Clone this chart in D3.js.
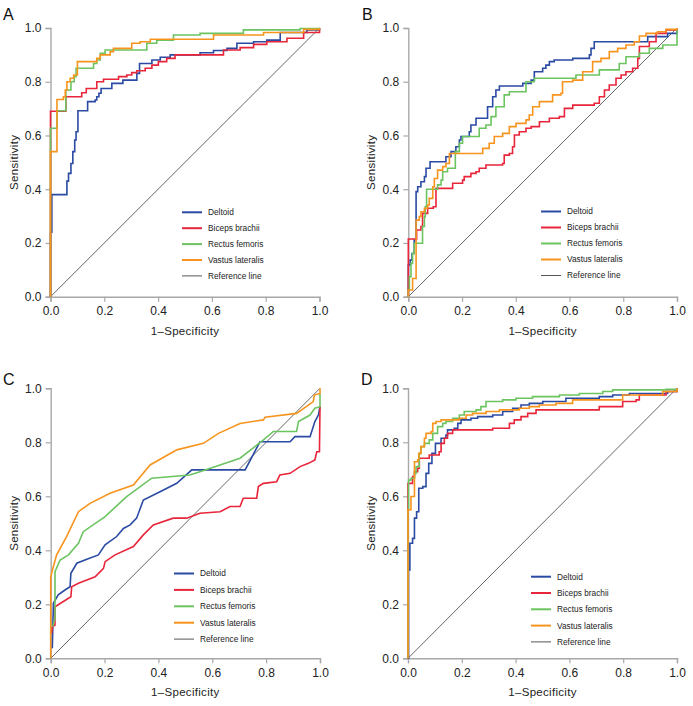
<!DOCTYPE html>
<html>
<head>
<meta charset="utf-8">
<script src="https://cdn.jsdelivr.net/npm/d3@7"></script>
<style>
  html, body { margin: 0; padding: 0; background: #ffffff; }
  svg { display: block; font-family: "Liberation Sans", Arial, Helvetica, sans-serif; }
</style>
</head>
<body>
<svg id="chart" width="693" height="706"></svg>
<script>
// ---------------- DATA ----------------
const seriesNames = ["Deltoid", "Biceps brachii", "Rectus femoris", "Vastus lateralis"];
const referenceLabel = "Reference line";
const panelLabels = ["A", "B", "C", "D"];
const tickValues = [0, 0.2, 0.4, 0.6, 0.8, 1.0];
const xTitle = "1\u2013Specificity";
const yTitle = "Sensitivity";

// Panel A  [1-specificity, sensitivity]
const A_deltoid = [[0,0],[0,0.24],[0.005,0.38],[0.061,0.43],[0.067,0.459],[0.076,0.496],[0.083,0.54],[0.09,0.583],[0.095,0.614],[0.102,0.692],[0.138,0.726],[0.166,0.732],[0.172,0.744],[0.18,0.757],[0.188,0.775],[0.228,0.794],[0.269,0.806],[0.321,0.831],[0.331,0.868],[0.377,0.881],[0.408,0.891],[0.445,0.9],[0.556,0.908],[0.606,0.916],[0.656,0.924],[0.693,0.943],[0.755,0.949],[0.804,0.955],[0.854,0.983],[0.953,0.993],[1,1]];
const A_biceps = [[0,0],[0,0.69],[0.057,0.744],[0.116,0.759],[0.133,0.775],[0.172,0.8],[0.197,0.809],[0.253,0.819],[0.284,0.825],[0.302,0.834],[0.321,0.841],[0.352,0.85],[0.377,0.862],[0.401,0.875],[0.432,0.887],[0.463,0.9],[0.643,0.918],[0.705,0.927],[0.755,0.939],[0.804,0.949],[0.879,0.962],[0.941,0.983],[1,1]];
const A_rectus = [[0,0],[0,0.627],[0.024,0.692],[0.057,0.769],[0.076,0.8],[0.088,0.819],[0.095,0.85],[0.16,0.868],[0.172,0.881],[0.185,0.906],[0.203,0.918],[0.358,0.943],[0.395,0.955],[0.457,0.974],[0.556,0.98],[0.717,0.993],[0.928,0.998],[1,1]];
const A_vastus = [[0,0],[0,0.54],[0.024,0.734],[0.048,0.744],[0.055,0.769],[0.061,0.8],[0.073,0.813],[0.086,0.825],[0.1,0.875],[0.172,0.887],[0.185,0.9],[0.222,0.912],[0.234,0.924],[0.302,0.943],[0.333,0.949],[0.371,0.958],[0.606,0.974],[0.792,0.983],[0.941,0.995],[1,1]];

// Panel B
const B_deltoid = [[0,0],[0,0.118],[0.007,0.136],[0.014,0.161],[0.022,0.211],[0.029,0.391],[0.035,0.409],[0.047,0.428],[0.06,0.447],[0.066,0.478],[0.081,0.502],[0.14,0.521],[0.159,0.54],[0.177,0.558],[0.19,0.583],[0.196,0.596],[0.227,0.614],[0.233,0.639],[0.252,0.664],[0.295,0.707],[0.314,0.744],[0.326,0.769],[0.339,0.784],[0.426,0.794],[0.457,0.806],[0.469,0.837],[0.5,0.85],[0.512,0.862],[0.525,0.875],[0.543,0.881],[0.612,0.887],[0.674,0.9],[0.68,0.924],[0.692,0.949],[0.891,0.968],[0.965,0.98],[1,1]];
const B_biceps = [[0,0],[0,0.215],[0.031,0.248],[0.047,0.261],[0.053,0.31],[0.072,0.329],[0.093,0.335],[0.103,0.403],[0.165,0.422],[0.202,0.434],[0.208,0.447],[0.233,0.459],[0.252,0.465],[0.264,0.478],[0.289,0.49],[0.351,0.496],[0.357,0.527],[0.376,0.533],[0.388,0.558],[0.395,0.602],[0.413,0.614],[0.438,0.627],[0.457,0.633],[0.488,0.651],[0.525,0.664],[0.562,0.67],[0.581,0.701],[0.612,0.713],[0.692,0.72],[0.711,0.744],[0.73,0.769],[0.748,0.788],[0.773,0.813],[0.792,0.825],[0.81,0.837],[0.835,0.85],[0.854,0.887],[0.86,0.931],[0.897,0.949],[0.922,0.98],[0.959,0.993],[1,1]];
const B_rectus = [[0,0],[0,0.025],[0.004,0.074],[0.01,0.124],[0.016,0.161],[0.022,0.199],[0.053,0.261],[0.06,0.298],[0.063,0.335],[0.068,0.4],[0.109,0.416],[0.122,0.434],[0.128,0.465],[0.146,0.478],[0.175,0.54],[0.19,0.571],[0.202,0.596],[0.264,0.627],[0.289,0.639],[0.308,0.67],[0.326,0.707],[0.357,0.751],[0.376,0.763],[0.438,0.8],[0.469,0.813],[0.624,0.825],[0.711,0.844],[0.785,0.868],[0.81,0.893],[0.86,0.906],[0.897,0.924],[0.947,0.937],[1,0.98],[1,1]];
const B_vastus = [[0,0],[0,0.025],[0.016,0.068],[0.029,0.285],[0.041,0.298],[0.047,0.316],[0.06,0.329],[0.072,0.341],[0.078,0.366],[0.091,0.409],[0.097,0.44],[0.109,0.471],[0.128,0.484],[0.14,0.496],[0.153,0.533],[0.277,0.552],[0.301,0.571],[0.32,0.596],[0.351,0.608],[0.376,0.633],[0.401,0.645],[0.438,0.658],[0.45,0.676],[0.463,0.707],[0.488,0.726],[0.537,0.751],[0.568,0.757],[0.574,0.8],[0.612,0.806],[0.649,0.837],[0.686,0.875],[0.717,0.887],[0.748,0.912],[0.779,0.924],[0.81,0.937],[0.841,0.949],[0.86,0.97],[0.885,0.98],[0.928,0.986],[0.959,0.995],[1,1]];

// Panel C
const C_deltoid = [[0.006,0.037],[0.01,0.204],[0.028,0.235],[0.053,0.253],[0.072,0.265],[0.075,0.315],[0.097,0.352],[0.127,0.364],[0.177,0.383],[0.202,0.42],[0.245,0.451],[0.27,0.481],[0.295,0.494],[0.319,0.519],[0.344,0.586],[0.406,0.617],[0.468,0.648],[0.524,0.698],[0.722,0.698],[0.777,0.802],[0.889,0.802],[0.907,0.821],[0.963,0.821],[0.981,0.877],[0.994,0.901],[1,0.932]];
const C_biceps = [[0.004,0.093],[0.006,0.117],[0.016,0.123],[0.016,0.191],[0.075,0.228],[0.078,0.265],[0.103,0.278],[0.165,0.302],[0.196,0.333],[0.202,0.358],[0.239,0.383],[0.307,0.414],[0.344,0.457],[0.381,0.494],[0.455,0.519],[0.505,0.519],[0.554,0.537],[0.629,0.543],[0.666,0.562],[0.703,0.562],[0.715,0.593],[0.765,0.593],[0.771,0.636],[0.79,0.648],[0.839,0.654],[0.851,0.679],[0.889,0.685],[0.926,0.71],[0.957,0.722],[0.981,0.735],[0.988,0.765],[0.998,0.765],[1,0.932]];
const C_rectus = [[0.007,0.117],[0.016,0.148],[0.016,0.321],[0.035,0.364],[0.066,0.383],[0.103,0.426],[0.121,0.469],[0.202,0.525],[0.282,0.599],[0.375,0.667],[0.517,0.679],[0.554,0.691],[0.703,0.741],[0.79,0.809],[0.827,0.84],[0.913,0.84],[0.92,0.877],[0.963,0.901],[0.981,0.926],[1,0.932],[1,0.981]];
const C_vastus = [[0,0],[0,0.302],[0.01,0.34],[0.022,0.383],[0.059,0.451],[0.103,0.543],[0.146,0.574],[0.22,0.611],[0.307,0.642],[0.369,0.716],[0.468,0.772],[0.567,0.796],[0.623,0.833],[0.703,0.87],[0.79,0.883],[0.796,0.893],[0.913,0.907],[0.975,0.951],[0.979,0.975],[1,0.981],[1,1]];

// Panel D
const D_deltoid = [[0,0],[0.002,0.327],[0.007,0.426],[0.017,0.444],[0.024,0.519],[0.032,0.543],[0.04,0.63],[0.055,0.636],[0.067,0.685],[0.077,0.722],[0.089,0.759],[0.102,0.796],[0.123,0.815],[0.141,0.827],[0.147,0.846],[0.172,0.852],[0.185,0.87],[0.197,0.883],[0.234,0.889],[0.259,0.895],[0.315,0.901],[0.352,0.914],[0.389,0.926],[0.42,0.938],[0.451,0.944],[0.501,0.951],[0.587,0.963],[0.711,0.969],[0.761,0.975],[0.823,0.981],[0.965,0.988],[1,1]];
const D_biceps = [[0,0],[0,0.648],[0.017,0.673],[0.024,0.691],[0.036,0.704],[0.042,0.741],[0.079,0.753],[0.116,0.765],[0.123,0.796],[0.135,0.815],[0.147,0.833],[0.166,0.846],[0.315,0.852],[0.377,0.87],[0.395,0.883],[0.42,0.895],[0.445,0.907],[0.476,0.92],[0.711,0.932],[0.798,0.951],[0.848,0.957],[0.86,0.975],[0.959,0.988],[1,1]];
const D_rectus = [[0,0],[0,0.55],[0.002,0.66],[0.011,0.667],[0.024,0.685],[0.03,0.71],[0.042,0.759],[0.048,0.784],[0.061,0.796],[0.079,0.809],[0.092,0.833],[0.11,0.858],[0.129,0.87],[0.141,0.877],[0.166,0.889],[0.191,0.901],[0.209,0.914],[0.253,0.92],[0.271,0.932],[0.29,0.951],[0.352,0.957],[0.401,0.963],[0.463,0.969],[0.563,0.975],[0.637,0.981],[0.724,0.988],[0.761,0.994],[0.959,0.996],[1,1]];
const D_vastus = [[0,0],[0,0.55],[0.011,0.599],[0.024,0.728],[0.036,0.735],[0.04,0.759],[0.048,0.784],[0.061,0.815],[0.067,0.833],[0.086,0.84],[0.092,0.87],[0.104,0.877],[0.123,0.883],[0.191,0.889],[0.216,0.901],[0.24,0.907],[0.29,0.914],[0.34,0.92],[0.414,0.926],[0.451,0.932],[0.488,0.938],[0.55,0.944],[0.612,0.957],[0.798,0.975],[0.947,0.988],[1,1]];

const referenceLine = [[0,0],[1,1]];

// ---------------- LAYOUT / STYLE ----------------
const colors = ["#2a4aa3", "#e8253a", "#6cc460", "#f7941e"];
const panels = [
  { label: panelLabels[0], data: [A_deltoid, A_biceps, A_rectus, A_vastus], step: true,
    x0: 50.5, x1: 319.5, y0: 296.7, y1: 28, lx: 182, ly: 212.3, lgap: 15.9, letter: [3, 20] },
  { label: panelLabels[1], data: [B_deltoid, B_biceps, B_rectus, B_vastus], step: true,
    x0: 408.3, x1: 677, y0: 296.7, y1: 28, lx: 541, ly: 211.5, lgap: 16.0, letter: [362, 20] },
  { label: panelLabels[2], data: [C_deltoid, C_biceps, C_rectus, C_vastus], step: false,
    x0: 50.7, x1: 320, y0: 658.3, y1: 388.3, lx: 174, ly: 573.5, lgap: 16.4, letter: [3, 385] },
  { label: panelLabels[3], data: [D_deltoid, D_biceps, D_rectus, D_vastus], step: true,
    x0: 408, x1: 677, y0: 658.3, y1: 388.3, lx: 531, ly: 576.7, lgap: 16.3, letter: [361, 385] }
];

const svg = d3.select("#chart");
const fmt = d3.format(".1f");

panels.forEach(p => {
  const x = d3.scaleLinear().domain([0, 1]).range([p.x0, p.x1]);
  const y = d3.scaleLinear().domain([0, 1]).range([p.y0, p.y1]);
  const g = svg.append("g");

  // axes
  const xAxis = d3.axisBottom(x).tickValues(tickValues).tickFormat(fmt).tickSize(5).tickPadding(5);
  const yAxis = d3.axisLeft(y).tickValues(tickValues).tickFormat(fmt).tickSize(5).tickPadding(4);

  const gx = g.append("g").attr("transform", `translate(0,${p.y0})`).call(xAxis);
  const gy = g.append("g").attr("transform", `translate(${p.x0},0)`).call(yAxis);
  [gx, gy].forEach(ax => {
    ax.select(".domain").attr("stroke", "#a8a8a8").attr("stroke-width", 1.4);
    ax.selectAll(".tick line").attr("stroke", "#a8a8a8").attr("stroke-width", 1.2);
    ax.selectAll(".tick text").attr("fill", "#222").style("font-size", "12px")
      .style("font-family", "'Liberation Sans', Arial, sans-serif");
  });

  // axis titles
  g.append("text")
    .attr("x", (p.x0 + p.x1) / 2).attr("y", p.y0 + 38)
    .attr("text-anchor", "middle").attr("fill", "#222")
    .style("font-size", "11.5px").style("letter-spacing", "0.3px")
    .text(xTitle);
  g.append("text")
    .attr("transform", `translate(${p.x0 - 33},${(p.y0 + p.y1) / 2}) rotate(-90)`)
    .attr("text-anchor", "middle").attr("fill", "#222")
    .style("font-size", "11.5px").style("letter-spacing", "0.3px")
    .text(yTitle);

  // panel letter
  g.append("text")
    .attr("x", p.letter[0]).attr("y", p.letter[1])
    .attr("fill", "#111").style("font-size", "16px")
    .text(p.label);

  // reference line
  const line = d3.line().x(d => x(d[0])).y(d => y(d[1]));
  g.append("path").datum(referenceLine)
    .attr("d", line).attr("fill", "none")
    .attr("stroke", "#555").attr("stroke-width", 0.9);

  // curves
  const curveLine = d3.line().x(d => x(d[0])).y(d => y(d[1]))
    .curve(p.step ? d3.curveStepAfter : d3.curveLinear);
  p.data.forEach((s, i) => {
    g.append("path").datum(s)
      .attr("d", curveLine).attr("fill", "none")
      .attr("stroke", colors[i]).attr("stroke-width", 1.6)
      .attr("stroke-linejoin", "miter");
  });

  // legend
  const items = seriesNames.map((n, i) => ({ name: n, color: colors[i], w: 2 }))
    .concat([{ name: referenceLabel, color: "#555", w: 1 }]);
  items.forEach((it, i) => {
    const yy = p.ly + i * p.lgap;
    g.append("line").attr("x1", p.lx).attr("x2", p.lx + 20)
      .attr("y1", yy).attr("y2", yy)
      .attr("stroke", it.color).attr("stroke-width", it.w);
    g.append("text").attr("x", p.lx + 26).attr("y", yy).attr("dy", "0.35em")
      .attr("fill", "#222").style("font-size", "8.3px")
      .text(it.name);
  });
});
</script>
</body>
</html>
